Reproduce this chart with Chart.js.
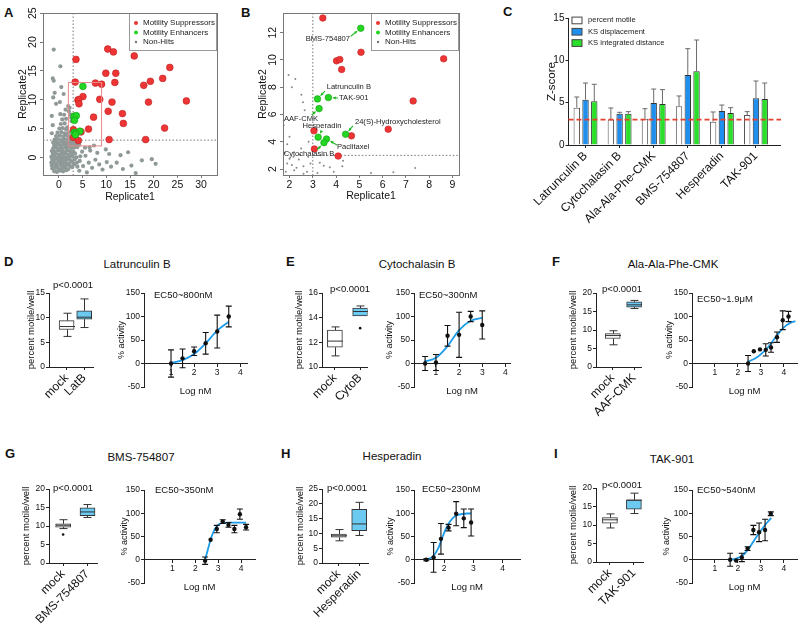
<!DOCTYPE html>
<html>
<head>
<meta charset="utf-8">
<script src="https://cdn.jsdelivr.net/npm/chart.js@4.4.1/dist/chart.umd.min.js"></script>
<style>
  html, body { margin: 0; padding: 0; background: #fff; }
  #fig { position: relative; width: 800px; height: 626px; overflow: hidden; font-family: "Liberation Sans", Arial, sans-serif; color: #111; }
  #fig canvas { position: absolute; }
  .lbl { position: absolute; white-space: nowrap; line-height: 1; }
  .pl { font-weight: bold; font-size: 13px; transform: translateY(-50%); }
  .ttl { font-size: 11.5px; transform: translate(-50%, -50%); }
  .pv { font-size: 9.5px; transform: translate(-50%, -50%); }
  .ec { font-size: 9.5px; transform: translateY(-50%); }
</style>
</head>
<body>
<div id="fig"></div>
<script>
// ---- A / B : screen replicates ----
const hitCutoff = 3;
const screenX = [-2, 32], screenY = [-2, 24];
const zoomX = [2, 9], zoomY = [2, 13];
const screenTicksX = [0, 5, 10, 15, 20, 25, 30], screenTicksY = [0, 5, 10, 15, 20, 25];
const zoomTicksX = [2, 3, 4, 5, 6, 7, 8, 9], zoomTicksY = [2, 4, 6, 8, 10, 12];

const suppressors = [
  [3.43, 13.07], [5.07, 10.56], [4.02, 9.93], [4.16, 10.03], [4.24, 9.30], [8.62, 10.08], [7.31, 6.99],
  [6.24, 4.92], [4.66, 4.43], [3.05, 4.8], [3.07, 3.47], [4.09, 2.95], [7.7, 12.9], [9.0, 12.7],
  [10.3, 18.8], [11.5, 18.3], [15.9, 17.6], [3.6, 17.0], [9.9, 14.6], [12.0, 14.6], [23.4, 15.6],
  [11.8, 13.0], [19.3, 13.2], [21.9, 13.7], [17.9, 12.5], [11.2, 9.6], [18.9, 9.6], [26.9, 9.8],
  [10.4, 8.0], [13.4, 7.6], [13.6, 5.9], [22.3, 5.1], [10.6, 3.1], [18.3, 3.1]
];
const enhancers = [[5.06, 12.32], [3.2, 7.14], [3.67, 7.24], [3.27, 6.43], [4.41, 4.55], [3.23, 4.33], [3.59, 4.2], [3.48, 3.93]];
const enhancerNames = ['BMS-754807', 'Latrunculin B', 'TAK-901', 'AAF-CMK', '24(S)-Hydroxycholesterol', 'Hesperadin', 'Paclitaxel', 'Cytochalasin B'];
const nonHits = [
  [-1.0, -2.4], [-0.4, -2.5], [0.3, -2.3], [0.9, -2.4], [1.6, -2.2],
  [-1.4, -1.9], [-0.7, -1.8], [0.0, -2.0], [0.6, -1.9], [1.3, -1.8], [2.0, -2.0], [2.8, -1.7],
  [-1.5, -1.4], [-0.9, -1.3], [-0.3, -1.5], [0.4, -1.3], [1.0, -1.4], [1.7, -1.3], [2.4, -1.5], [3.2, -1.2],
  [-1.6, -0.9], [-1.1, -0.8], [-0.5, -1.0], [0.2, -0.8], [0.8, -0.9], [1.4, -0.8], [2.1, -1.0], [2.9, -0.8], [3.8, -0.9],
  [-1.4, -0.4], [-0.8, -0.3], [-0.1, -0.5], [0.5, -0.3], [1.1, -0.4], [1.8, -0.3], [2.5, -0.5], [3.3, -0.3],
  [-1.6, 0.1], [-1.0, 0.2], [-0.4, 0.0], [0.2, 0.1], [0.9, 0.2], [1.5, 0.0], [2.2, 0.1], [2.9, 0.2], [3.7, 0.0], [4.5, 0.2],
  [-1.3, 0.6], [-0.7, 0.7], [0.0, 0.5], [0.6, 0.6], [1.3, 0.7], [1.9, 0.5], [2.6, 0.6], [3.4, 0.7],
  [-1.5, 1.1], [-0.9, 1.0], [-0.2, 1.2], [0.4, 1.1], [1.0, 1.0], [1.7, 1.2], [2.3, 1.1], [3.0, 1.0],
  [-1.2, 1.6], [-0.6, 1.7], [0.1, 1.5], [0.7, 1.6], [1.4, 1.7],
  [-1.0, 2.1], [-0.4, 2.2], [0.3, 2.0], [0.9, 2.2], [1.5, 2.1],
  [-1.2, 2.6], [-0.6, 2.7], [0.0, 2.5], [0.7, 2.7], [1.3, 2.6],
  [-0.9, 3.1], [-0.2, 3.2], [0.5, 3.0], [1.1, 3.2],
  [-0.6, 3.7], [0.2, 3.8], [0.9, 3.6], [1.5, 3.9],
  [-0.3, 4.3], [0.5, 4.4], [1.2, 4.2],
  [0.1, 5.0], [0.8, 5.1], [1.5, 4.9], [0.4, 5.8], [1.2, 5.9], [0.7, 6.6], [1.5, 6.7], [0.3, 7.5], [1.1, 7.4], [1.4, 8.3],
  [-1.1, 18.7], [0.3, 15.8], [-1.3, 13.7], [-1.1, 13.3], [-0.9, 11.2], [0.5, 12.2], [-1.2, 10.4], [-0.6, 9.3],
  [0.2, 9.6], [1.0, 11.0], [-1.5, 7.2], [-1.3, 5.6], [-1.5, 4.2],
  [4.4, -0.6], [5.1, -1.5], [5.6, 0.3], [6.3, -0.9], [7.0, -1.8], [7.7, -0.4], [8.5, -1.2], [9.2, -2.1],
  [10.1, -0.8], [11.0, -1.6], [12.2, -0.9], [13.5, -2.0], [15.3, -1.4], [17.5, -0.5], [19.6, -0.3], [20.4, -1.1],
  [13.0, 0.4], [14.6, 0.9], [10.6, 0.6], [8.1, 0.8], [6.6, 1.2], [4.9, 1.0], [3.9, -1.6], [4.3, -2.3], [5.9, -2.6],
  [9.9, 1.4], [16.2, -2.7],
  [1.96, 8.9], [2.25, 8.6], [2.1, 8.0], [2.51, 7.44], [2.58, 6.9], [2.65, 6.3], [1.75, 5.2], [2.0, 4.37],
  [1.9, 3.82], [2.5, 3.5], [2.82, 4.0], [2.17, 2.9], [2.4, 2.7], [1.9, 2.4], [2.1, 2.3], [2.6, 2.2], [2.3, 2.1],
  [2.9, 2.4], [1.84, 1.8], [2.75, 1.8], [2.2, 1.9], [2.6, 1.65], [2.0, 2.75], [2.45, 3.05], [2.8, 2.9], [1.8, 3.2],
  [3.3, 2.46], [3.73, 2.12], [3.47, 2.24], [4.27, 2.2], [4.3, 2.6], [5.5, 1.7], [6.46, 1.76], [7.4, 2.07], [3.2, 1.7], [3.9, 1.8]
];

// ---- C : z-scores ----
const compounds = ['Latrunculin B', 'Cytochalasin B', 'Ala-Ala-Phe-CMK', 'BMS-754807', 'Hesperadin', 'TAK-901'];
const zMotile = [4.41, 3.0, 3.1, 4.57, 2.76, 3.54];
const zMotileSd = [1.26, 1.37, 1.19, 1.22, 1.14, 0.40];
const zDisp = [5.35, 3.70, 4.96, 8.27, 4.02, 5.51];
const zDispSd = [1.97, 0.16, 1.65, 3.11, 0.70, 2.05];
const zInt = [5.16, 3.70, 4.84, 8.70, 3.78, 5.43];
const zIntSd = [2.01, 0.24, 1.70, 3.70, 0.63, 1.89];
const zThreshold = 3;
const zTicks = [0, 5, 10, 15];

// ---- D-I : box stats [min, q1, median, q3, max], dose response ----
const actTicks = [-50, 0, 50, 100, 150];
const latMock = [6.2, 7.6, 8.2, 9.4, 10.9], latDrug = [8.0, 9.7, 10.1, 11.4, 13.8];
const latDose = [1.0, 1.5, 2.0, 2.5, 3.0, 3.5], latAct = [0, 11, 26, 43, 68, 100], latSd = [29, 20, 9, 23, 35, 22];
const latFitX = [1.0, 1.5, 2.0, 2.5, 3.0, 3.5], latFitY = [1, 7, 20, 43, 70, 89];

const cytMock = [10.9, 11.6, 12.1, 13.0, 13.25], cytDrug = [14.14, 14.14, 14.5, 14.78, 14.95], cytOut = [[2, 13.15]];
const cytDose = [0.53, 1.0, 1.5, 2.0, 2.5, 3.0], cytAct = [0, 2, 59, 61, 100, 82], cytSd = [15, 17, 22, 48, 11, 30];
const cytFitX = [0.5, 1.0, 1.5, 2.0, 2.5, 3.0], cytFitY = [4, 12, 37, 71, 91, 97];

const aafMock = [6.0, 7.7, 8.5, 9.0, 9.8], aafDrug = [15.8, 16.2, 16.8, 17.6, 18.0];
const aafDose = [2.44, 2.69, 2.96, 3.21, 3.44, 3.7, 3.95, 4.2], aafAct = [0, 26, 30, 29, 34, 56, 92, 100], aafSd = [17, 0, 0, 13, 10, 11, 20, 11];
const aafFitX = [2.44, 2.8, 3.1, 3.4, 3.7, 4.0, 4.3, 4.5], aafFitY = [4, 12, 24, 40, 60, 77, 87, 90];

const bmsMock = [9.3, 9.7, 10.2, 10.6, 11.7], bmsDrug = [12.3, 12.8, 13.8, 14.9, 15.8], bmsOut = [[1, 7.7]];
const bmsDose = [2.43, 2.67, 2.94, 3.2, 3.45, 3.71, 3.95, 4.22], bmsAct = [-2, 43, 66, 82, 75, 66, 98, 70], bmsSd = [8, 0, 8, 4, 5, 8, 11, 6];
const bmsFitX = [2.42, 2.55, 2.7, 2.85, 3.0, 3.15, 3.4, 4.22], bmsFitY = [-2, 22, 48, 66, 75, 79, 80, 80];

const hesMock = [7.5, 8.7, 9.2, 9.8, 11.3], hesDrug = [9.3, 10.9, 13.2, 18.1, 20.5];
const hesDose = [1.39, 1.64, 1.89, 2.15, 2.41, 2.67, 2.92], hesAct = [0, 5, 45, 69, 99, 89, 80], hesSd = [2, 32, 33, 7, 26, 20, 29];
const hesFitX = [1.39, 1.6, 1.8, 1.95, 2.1, 2.3, 2.5, 2.92], hesFitY = [1, 6, 25, 50, 72, 90, 97, 100];

const takMock = [9.2, 10.5, 11.4, 12.0, 13.0], takDrug = [13.1, 14.3, 16.7, 16.8, 18.6];
const takDose = [1.66, 1.92, 2.17, 2.42, 2.67, 2.92, 3.18, 3.43], takAct = [0, -1.5, 5, 24, 64, 59, 64, 99], takSd = [14, 0, 9, 4, 10, 20, 23, 4];
const takFitX = [1.66, 1.9, 2.2, 2.5, 2.75, 3.0, 3.25, 3.45], takFitY = [0, 2, 9, 26, 45, 63, 79, 90];

const FONT = '"Liberation Sans", Arial, sans-serif';
Chart.defaults.font.family = FONT;
Chart.defaults.color = '#111';
const fig = document.getElementById('fig');

// put a chart so that its plot area lands on area = [left, top, right, bottom]
function mount(area, leftEdge, bottomEdge, cfg, topPad, rightPad) {
  const [l, t, r, b] = area;
  const cv = document.createElement('canvas');
  cv.width = r - leftEdge + rightPad;
  cv.height = bottomEdge - t + topPad;
  cv.style.left = leftEdge + 'px';
  cv.style.top = (t - topPad) + 'px';
  fig.appendChild(cv);
  const o = cfg.options;
  const onZero = typeof o.scales.x.position === 'object';
  o.responsive = false;
  o.animation = false;
  o.events = [];
  o.layout = { autoPadding: false, padding: { left: 0, top: topPad, right: rightPad, bottom: onZero ? bottomEdge - b : 0 } };
  o.scales.y.afterFit = s => { s.width = l - leftEdge; };
  if (!onZero) o.scales.x.afterFit = s => { s.height = bottomEdge - b; };
  o.plugins = { legend: { display: false }, tooltip: { enabled: false } };
  return new Chart(cv, cfg);
}

function axis(size, tick, pad, color = '#222') {
  return {
    border: { display: true, color, width: 1 },
    grid: { display: true, drawOnChartArea: false, drawTicks: true, tickLength: tick, color, tickColor: color, offset: false },
    ticks: { color: '#111', font: { size }, padding: pad, autoSkip: false }
  };
}
const title = (text, size, padding = 0) => ({ display: true, text, color: '#111', font: { size }, padding });
const fixTicks = vals => s => { s.ticks = vals.map(value => ({ value })); };
const rRange = ([a, b]) => [a - 0.04 * (b - a), b + 0.04 * (b - a)];
const pts = arr => arr.map(([x, y]) => ({ x, y }));

function arrow(ctx, x0, y0, x1, y1) {
  const ang = Math.atan2(y1 - y0, x1 - x0);
  ctx.beginPath(); ctx.moveTo(x0, y0); ctx.lineTo(x1, y1); ctx.stroke();
  ctx.beginPath();
  ctx.moveTo(x1, y1);
  ctx.lineTo(x1 - 3.2 * Math.cos(ang - 0.5), y1 - 3.2 * Math.sin(ang - 0.5));
  ctx.lineTo(x1 - 3.2 * Math.cos(ang + 0.5), y1 - 3.2 * Math.sin(ang + 0.5));
  ctx.closePath(); ctx.fill();
}

const RED = '#ee3535', GREEN = '#22d622', GRAY = '#8f9a98';
const screenDecor = o => ({
  id: 'screenDecor',
  beforeDatasetsDraw(chart) {
    const { ctx, chartArea: a, scales: { x, y } } = chart;
    const cx = x.getPixelForValue(hitCutoff), cy = y.getPixelForValue(hitCutoff);
    ctx.save();
    ctx.strokeStyle = '#555'; ctx.lineWidth = 0.8; ctx.setLineDash([1.5, 2]);
    ctx.beginPath();
    ctx.moveTo(cx, a.top); ctx.lineTo(cx, a.bottom);
    ctx.moveTo(o.fullCut ? a.left : cx, cy); ctx.lineTo(a.right, cy);
    ctx.stroke();
    ctx.restore();
  },
  afterDatasetsDraw(chart) {
    const { ctx, chartArea: a, scales: { x, y } } = chart;
    ctx.save();
    if (o.zoomBox) {
      const x0 = x.getPixelForValue(zoomX[0]), x1 = x.getPixelForValue(zoomX[1]);
      const y0 = y.getPixelForValue(zoomY[0]), y1 = y.getPixelForValue(zoomY[1]);
      ctx.strokeStyle = '#e88a8a'; ctx.lineWidth = 1;
      ctx.strokeRect(x0, y1, x1 - x0, y0 - y1);
    }
    if (o.notes) {
      const meta = chart.getDatasetMeta(0);
      ctx.font = '7.6px ' + FONT; ctx.textBaseline = 'middle';
      o.notes.forEach(([dx, dy, align, ax, ay], i) => {
        const p = meta.data[i];
        ctx.fillStyle = '#222'; ctx.textAlign = align;
        ctx.fillText(enhancerNames[i], p.x + dx, p.y + dy);
        const len = Math.hypot(ax, ay);
        ctx.strokeStyle = '#1fb81f'; ctx.fillStyle = '#1fb81f'; ctx.lineWidth = 1.1;
        arrow(ctx, p.x + ax, p.y + ay, p.x + ax / len * 4.6, p.y + ay / len * 4.6);
      });
    }
    const lw = 88, lh = 38, lx = a.right - lw, ly = a.top;
    ctx.fillStyle = '#fff'; ctx.fillRect(lx, ly, lw, lh);
    ctx.strokeStyle = '#999'; ctx.lineWidth = 1; ctx.strokeRect(lx + 0.5, ly + 0.5, lw - 1, lh - 1);
    const rows = [['Motility Suppressors', RED, 2], ['Motility Enhancers', GREEN, 2], ['Non-Hits', '#777', 1.2]];
    ctx.font = '8px ' + FONT; ctx.textBaseline = 'middle'; ctx.textAlign = 'left';
    rows.forEach(([t, c, r], i) => {
      const yy = ly + 10 + i * 9.5;
      ctx.fillStyle = c; ctx.beginPath(); ctx.arc(lx + 7, yy, r, 0, 2 * Math.PI); ctx.fill();
      ctx.fillStyle = '#222'; ctx.fillText(t, lx + 14, yy);
    });
    ctx.strokeStyle = '#777'; ctx.strokeRect(a.left + 0.5, a.top + 0.5, a.right - a.left, a.bottom - a.top);
    ctx.restore();
  }
});

function screenChart(area, leftEdge, bottomEdge, xr, yr, xt, yt, o) {
  const xs = axis(10.5, 3, 1, '#777');
  Object.assign(xs, { type: 'linear', position: 'bottom', min: xr[0], max: xr[1], afterBuildTicks: fixTicks(xt), title: title('Replicate1', 10.5) });
  const ys = axis(10.5, 3, 1, '#777');
  Object.assign(ys, { type: 'linear', min: yr[0], max: yr[1], afterBuildTicks: fixTicks(yt), title: title('Replicate2', 10.5) });
  Object.assign(ys.ticks, { minRotation: 90, maxRotation: 90, crossAlign: 'center' });
  return mount(area, leftEdge, bottomEdge, {
    type: 'scatter',
    data: { datasets: [
      { data: pts(enhancers), backgroundColor: GREEN, borderColor: '#16a016', borderWidth: 0.6, pointRadius: o.hitR },
      { data: pts(suppressors), backgroundColor: RED, borderColor: '#c02222', borderWidth: 0.6, pointRadius: o.hitR },
      { data: pts(nonHits), backgroundColor: o.grayC, borderWidth: 0, pointRadius: o.grayR }
    ] },
    options: { scales: { x: xs, y: ys } },
    plugins: [screenDecor(o)]
  }, 8, 6);
}

screenChart([43, 13, 217, 175], 17, 203, rRange(screenX), rRange(screenY), screenTicksX, screenTicksY,
  { hitR: 3.4, grayR: 2.1, grayC: GRAY, fullCut: true, zoomBox: true });
screenChart([283, 13, 459, 175], 257, 202, rRange(zoomX), rRange(zoomY), zoomTicksX, zoomTicksY,
  { hitR: 3.3, grayR: 1.0, grayC: '#888', fullCut: false, zoomBox: false,
    notes: [[-10.7, 10.7, 'right', -10, 8], [9.2, -11.6, 'left', 7.5, -7.9], [10.6, 0.5, 'left', 9.6, 0.5],
            [-1, 10.4, 'right', -7.4, 6.4], [9.3, -12.3, 'left', 7.3, -8.3], [3.8, -11.3, 'center', 3.5, -6.5],
            [10.4, 7.7, 'left', 10.4, 6], [-15, 11.3, 'center', -7, 7.3]] });

// ---- C ----
const zSds = [zMotileSd, zDispSd, zIntSd];
const zDecor = {
  id: 'zDecor',
  afterDatasetsDraw(chart) {
    const { ctx, chartArea: a, scales: { y } } = chart;
    ctx.save();
    ctx.strokeStyle = '#6b6b6b'; ctx.lineWidth = 1;
    chart.data.datasets.forEach((ds, di) => {
      chart.getDatasetMeta(di).data.forEach((bar, i) => {
        const top = y.getPixelForValue(ds.data[i] + zSds[di][i]);
        ctx.beginPath();
        ctx.moveTo(bar.x, bar.y); ctx.lineTo(bar.x, top);
        ctx.moveTo(bar.x - 2.5, top); ctx.lineTo(bar.x + 2.5, top);
        ctx.stroke();
      });
    });
    ctx.strokeStyle = '#222';
    ctx.beginPath(); ctx.moveTo(a.right, a.bottom + 0.5); ctx.lineTo(a.right + 8, a.bottom + 0.5); ctx.stroke();
    const yt = y.getPixelForValue(zThreshold);
    ctx.strokeStyle = '#e8402f'; ctx.lineWidth = 1.8; ctx.setLineDash([5, 3]);
    ctx.beginPath(); ctx.moveTo(a.left, yt); ctx.lineTo(a.right + 8, yt); ctx.stroke();
    ctx.setLineDash([]);
    ctx.font = '7.6px ' + FONT; ctx.textBaseline = 'middle'; ctx.textAlign = 'left';
    chart.data.datasets.forEach((ds, i) => {
      const yy = a.top + 2.4 + i * 11.3;
      ctx.fillStyle = ds.backgroundColor; ctx.fillRect(a.left + 3.5, yy - 3.3, 10, 6.7);
      ctx.strokeStyle = '#444'; ctx.lineWidth = 1; ctx.strokeRect(a.left + 3.5, yy - 3.3, 10, 6.7);
      ctx.fillStyle = '#222'; ctx.fillText(ds.label, a.left + 19.5, yy);
    });
    ctx.restore();
  }
};
const zx = axis(12, 3, 1);
Object.assign(zx, { type: 'category', offset: true });
Object.assign(zx.ticks, { minRotation: 45, maxRotation: 45 });
const zy = axis(10, 3, 1);
Object.assign(zy, { type: 'linear', min: 0, max: 15, afterBuildTicks: fixTicks(zTicks), title: title('Z-score', 11.5) });
const barOpts = { categoryPercentage: 0.77, barPercentage: 0.73, borderWidth: 1 };
mount([557, 18, 773, 145], 533, 240, {
  type: 'bar',
  data: { labels: compounds, datasets: [
    Object.assign({ label: 'percent motile', data: zMotile, backgroundColor: '#ffffff', borderColor: '#555' }, barOpts),
    Object.assign({ label: 'KS displacement', data: zDisp, backgroundColor: '#1f8fef', borderColor: '#333' }, barOpts),
    Object.assign({ label: 'KS integrated distance', data: zInt, backgroundColor: '#2be02b', borderColor: '#333' }, barOpts)
  ] },
  options: { scales: { x: zx, y: zy } },
  plugins: [zDecor]
}, 8, 10);

// ---- box plots ----
const whiskers = stats => ({
  id: 'whiskers',
  afterDatasetsDraw(chart) {
    const { ctx, scales: { x, y } } = chart;
    ctx.save(); ctx.strokeStyle = '#333'; ctx.lineWidth = 1;
    stats.forEach((s, i) => {
      const px = Math.round(x.getPixelForValue(i + 1)) + 0.5;
      const [lo, q1, med, q3, hi] = s.map(v => y.getPixelForValue(v));
      ctx.beginPath();
      if (s[0] < s[1]) { ctx.moveTo(px, q1); ctx.lineTo(px, lo); ctx.moveTo(px - 4, lo); ctx.lineTo(px + 4, lo); }
      if (s[4] > s[3]) { ctx.moveTo(px, q3); ctx.lineTo(px, hi); ctx.moveTo(px - 4, hi); ctx.lineTo(px + 4, hi); }
      ctx.moveTo(px - 7.5, med); ctx.lineTo(px + 7.5, med);
      ctx.stroke();
    });
    ctx.restore();
  }
});

function boxChart(area, leftEdge, bottomEdge, xr, yr, yt, names, stats, outliers) {
  const xs = axis(12, 3, 1);
  Object.assign(xs, { type: 'linear', position: 'bottom', offset: false, min: xr[0], max: xr[1], afterBuildTicks: fixTicks([1, 2]) });
  Object.assign(xs.ticks, { minRotation: 45, maxRotation: 45, callback: v => names[v - 1] });
  const ys = axis(8.5, 3, 1);
  Object.assign(ys, { type: 'linear', min: yr[0], max: yr[1], afterBuildTicks: fixTicks(yt), title: title('percent motile/well', 9.5) });
  return mount(area, leftEdge, bottomEdge, {
    type: 'bar',
    data: { datasets: [
      { type: 'scatter', data: pts(outliers), backgroundColor: '#111', pointRadius: 1.3, borderWidth: 0 },
      { data: stats.map((s, i) => ({ x: i + 1, y: [s[1], s[3]] })), backgroundColor: ['#ffffff', '#6ccaf1'],
        borderColor: '#333', borderWidth: 1, borderSkipped: false, barThickness: 15 }
    ] },
    options: { scales: { x: xs, y: ys } },
    plugins: [whiskers(stats)]
  }, 8, 4);
}

// ---- dose response ----
const errorBars = (xs, ys, sds) => ({
  id: 'errorBars',
  afterDatasetsDraw(chart) {
    const { ctx, scales: { x, y } } = chart;
    ctx.save(); ctx.strokeStyle = '#111'; ctx.lineWidth = 1.1;
    xs.forEach((v, i) => {
      if (!sds[i]) return;
      const px = x.getPixelForValue(v);
      const hi = y.getPixelForValue(ys[i] + sds[i]), lo = y.getPixelForValue(ys[i] - sds[i]);
      ctx.beginPath();
      ctx.moveTo(px, hi); ctx.lineTo(px, lo);
      ctx.moveTo(px - 3, hi); ctx.lineTo(px + 3, hi);
      ctx.moveTo(px - 3, lo); ctx.lineTo(px + 3, lo);
      ctx.stroke();
    });
    ctx.restore();
  }
});

function doseChart(area, leftEdge, bottomEdge, xr, xt, dose, act, sd, fitX, fitY) {
  const xs = axis(8.5, 3, 1);
  Object.assign(xs, { type: 'linear', position: { y: 0 }, min: xr[0], max: xr[1], afterBuildTicks: fixTicks(xt), title: title('Log nM', 9.5, { top: 7, bottom: 0 }) });
  const ys = axis(8.5, 3, 1);
  Object.assign(ys, { type: 'linear', min: -50, max: 150, afterBuildTicks: fixTicks(actTicks), title: title('% activity', 9) });
  return mount(area, leftEdge, bottomEdge, {
    type: 'scatter',
    data: { datasets: [
      { data: dose.map((x, i) => ({ x, y: act[i] })), backgroundColor: '#111', pointRadius: 2.2, borderWidth: 0 },
      { data: fitX.map((x, i) => ({ x, y: fitY[i] })), showLine: true, borderColor: '#1b9cec', borderWidth: 1.8,
        pointRadius: 0, cubicInterpolationMode: 'monotone', fill: false }
    ] },
    options: { scales: { x: xs, y: ys } },
    plugins: [errorBars(dose, act, sd)]
  }, 8, 3);
}

boxChart([49, 293, 93, 367], 26, 440, [0, 2.5], [0, 15], [0, 5, 10, 15], ['mock', 'LatB'], [latMock, latDrug], []);
boxChart([322, 293, 368, 367], 294, 440, [0.49, 2.29], [10, 16], [10, 12, 14, 16], ['mock', 'CytoB'], [cytMock, cytDrug], cytOut);
boxChart([596, 293, 642, 367], 568, 440, [0.22, 2.36], [0, 20], [0, 5, 10, 15, 20], ['mock', 'AAF-CMK'], [aafMock, aafDrug], []);
boxChart([49, 489, 97, 563], 21, 626, [0.42, 2.39], [0, 20], [0, 5, 10, 15, 20], ['mock', 'BMS-754807'], [bmsMock, bmsDrug], bmsOut);
boxChart([322, 489, 368, 563], 295, 626, [0.18, 2.43], [0, 25], [0, 5, 10, 15, 20, 25], ['mock', 'Hesperadin'], [hesMock, hesDrug], []);
boxChart([596, 488, 643, 562], 568, 626, [0.42, 2.38], [0, 20], [0, 5, 10, 15, 20], ['mock', 'TAK-901'], [takMock, takDrug], []);

doseChart([144, 293, 247, 387], 116, 402, [-0.17, 4.29], [1, 2, 3, 4], latDose, latAct, latSd, latFitX, latFitY);
doseChart([414, 293, 510, 387], 384, 402, [0.05, 4.2], [1, 2, 3, 4], cytDose, cytAct, cytSd, cytFitX, cytFitY);
doseChart([692, 293, 797, 387], 664, 402, [0, 4.57], [1, 2, 3, 4], aafDose, aafAct, aafSd, aafFitX, aafFitY);
doseChart([144, 490, 255, 583], 119, 600, [-0.24, 4.61], [1, 2, 3, 4], bmsDose, bmsAct, bmsSd, bmsFitX, bmsFitY);
doseChart([414, 490, 520, 583], 385, 600, [0.97, 4.59], [2, 3, 4], hesDose, hesAct, hesSd, hesFitX, hesFitY);
doseChart([692, 490, 797, 583], 661, 600, [0, 4.57], [1, 2, 3, 4], takDose, takAct, takSd, takFitX, takFitY);

// ---- text ----
function text(cls, str, x, y) {
  const d = document.createElement('div');
  d.className = 'lbl ' + cls;
  d.textContent = str;
  d.style.left = x + 'px';
  d.style.top = y + 'px';
  fig.appendChild(d);
}
[['A', 4, 12], ['B', 241, 12], ['C', 503, 11], ['D', 4, 261], ['E', 286, 261], ['F', 552, 261],
 ['G', 5, 453], ['H', 281, 453], ['I', 554, 453]].forEach(([s, x, y]) => text('pl', s, x, y));
[['Latrunculin B', 137, 265], ['Cytochalasin B', 417, 265], ['Ala-Ala-Phe-CMK', 673, 265],
 ['BMS-754807', 141, 458], ['Hesperadin', 392, 457], ['TAK-901', 672, 460]].forEach(([s, x, y]) => text('ttl', s, x, y));
[[73, 285], [350, 289], [622, 289], [73, 488], [347, 488], [622, 485]].forEach(([x, y]) => text('pv', 'p<0.0001', x, y));
[['EC50~800nM', 154, 295], ['EC50~300nM', 419, 295], ['EC50~1.9\u03bcM', 697, 299],
 ['EC50~350nM', 155, 490], ['EC50~230nM', 422, 489], ['EC50~540nM', 697, 490]].forEach(([s, x, y]) => text('ec', s, x, y));
</script>
</body>
</html>
